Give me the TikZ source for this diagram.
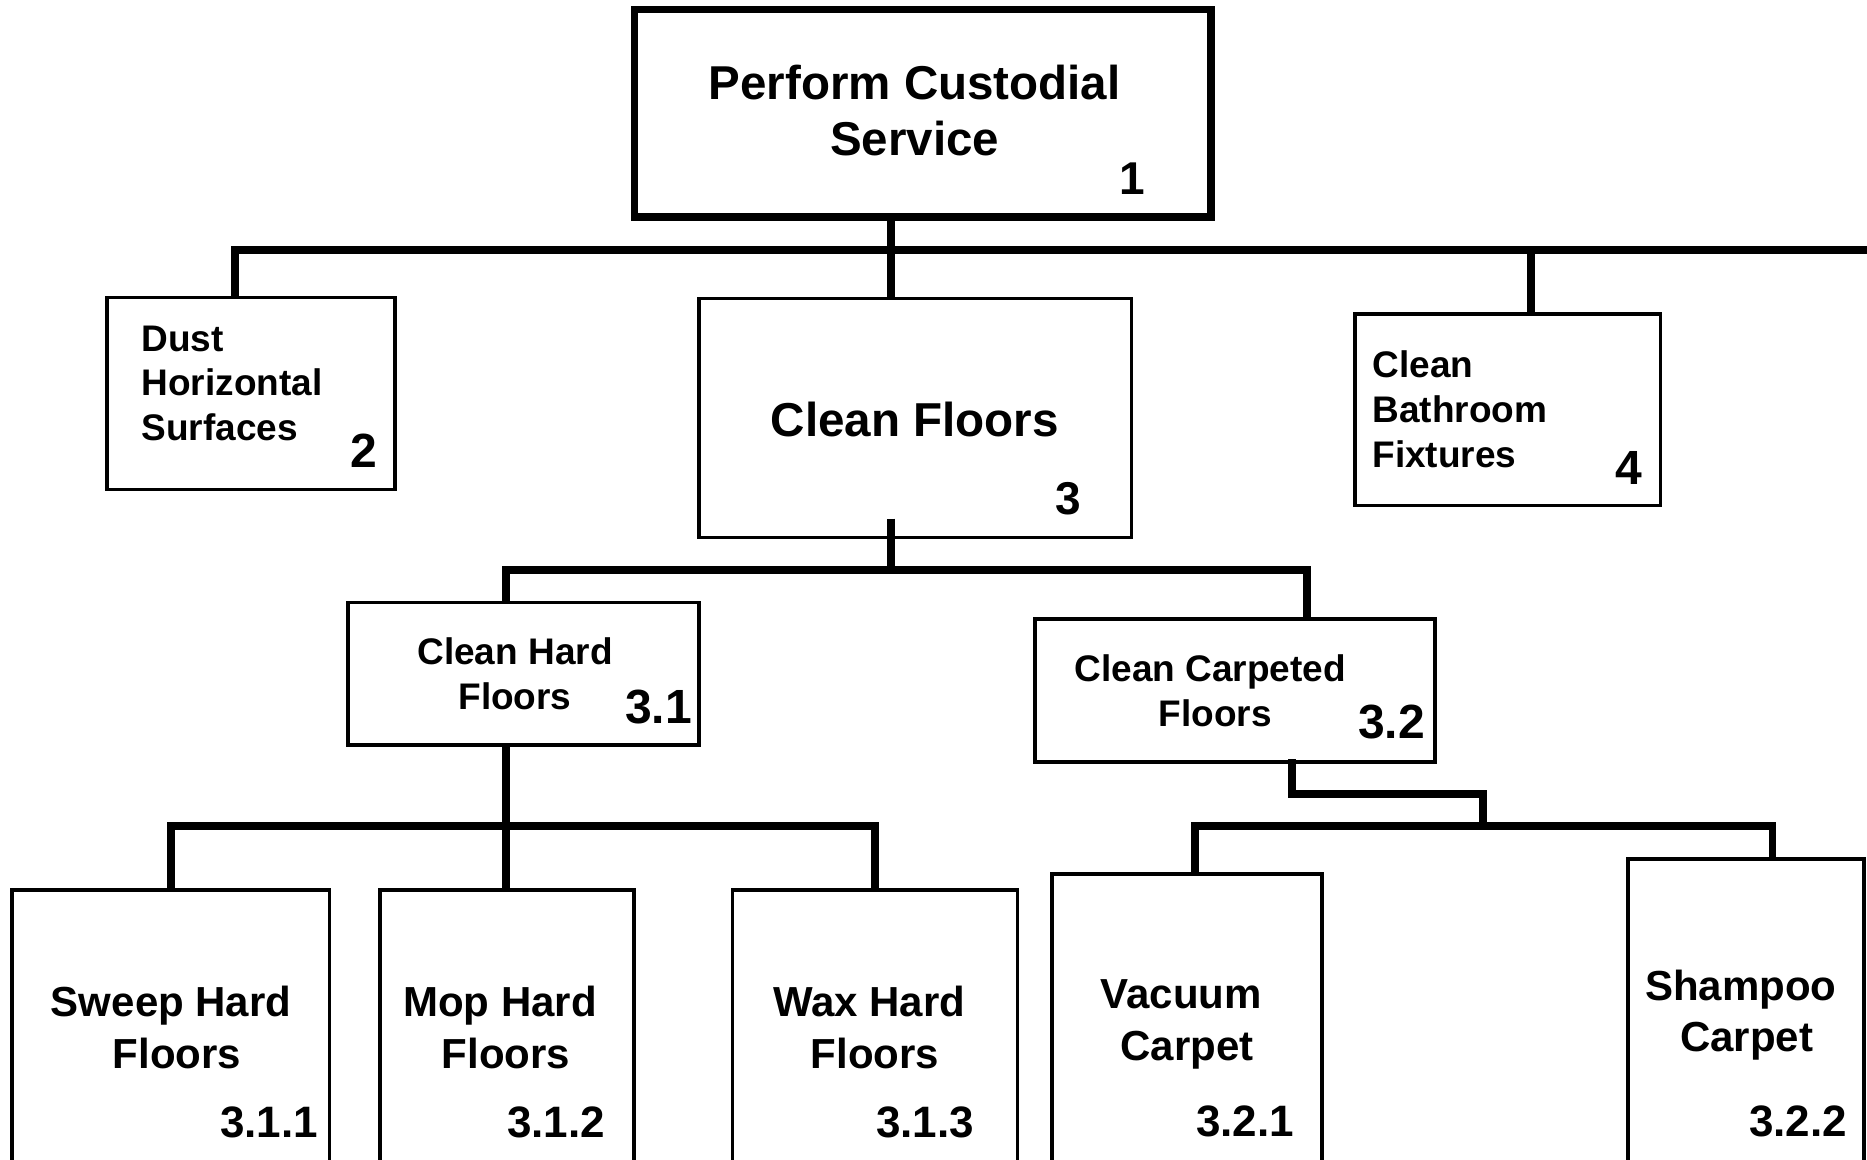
\documentclass[tikz,border=0pt]{standalone}
\usepackage{fontspec}
\setmainfont{Liberation Sans}
\usetikzlibrary{calc}
\tikzset{
  thickbox/.style={draw=black, line width=7.3pt, inner sep=0pt, outer sep=0pt, fill=white},
  thinbox/.style={draw=black, line width=3.5pt, inner sep=0pt, outer sep=0pt, fill=white},
  conn/.style={draw=black, line width=7.5pt},
  txt/.style={inner sep=0pt, outer sep=0pt, anchor=base},
  ltxt/.style={inner sep=0pt, outer sep=0pt, anchor=base west, align=left},
  num/.style={inner sep=0pt, outer sep=0pt, anchor=base east},
}
\newcommand{\fsz}[2]{\fontsize{#1pt}{#2pt}\selectfont\bfseries}
\begin{document}
\begin{tikzpicture}[x=1pt, y=-1pt]
\useasboundingbox (0,0) rectangle (1867,1159);
\clip (0,0) rectangle (1867,1159);
\fill[white] (0,0) rectangle (1867,1159);

% junction coordinates
\coordinate (j1) at (891,250);
\coordinate (j2) at (235,250);
\coordinate (b1e) at (1890,250);
\coordinate (j4) at (1531,250);
\coordinate (j5) at (891,570);
\coordinate (j6) at (506,570);
\coordinate (j7) at (1307,570);
\coordinate (j8) at (506,826);
\coordinate (j9) at (171,826);
\coordinate (j10) at (875,826);
\coordinate (j11) at (1292,794);
\coordinate (j12) at (1483,794);
\coordinate (j13) at (1483,826);
\coordinate (j14) at (1195,826);
\coordinate (j15) at (1772.5,826);

% boxes
\node[thickbox, minimum width=576.4pt, minimum height=207.3pt] (n1) at (922.8,113.35) {};
\node[thinbox, minimum width=288pt, minimum height=192pt] (n2) at (251,393.5) {};
\node[thinbox, minimum width=432.3pt, minimum height=239pt] (n3) at (915.15,418) {};
\node[thinbox, minimum width=305.5pt, minimum height=191.5pt] (n4) at (1507.75,409.75) {};
\node[thinbox, minimum width=351pt, minimum height=142.5pt] (n31) at (523.5,673.75) {};
\node[thinbox, minimum width=400pt, minimum height=143pt] (n32) at (1235,690.5) {};
\node[thinbox, minimum width=317.5pt, minimum height=340pt] (n311) at (170.75,1060) {};
\node[thinbox, minimum width=254pt, minimum height=340pt] (n312) at (507,1060) {};
\node[thinbox, minimum width=285pt, minimum height=340pt] (n313) at (875,1060) {};
\node[thinbox, minimum width=270pt, minimum height=350pt] (n321) at (1187,1049) {};
\node[thinbox, minimum width=236pt, minimum height=360pt] (n322) at (1746,1039) {};

% connectors
\draw[conn] (j1 |- n1.south) -- (j1 |- n3.north);
\draw[conn] (j2 |- n2.north) |- (b1e);
\draw[conn] (j4) -- (j4 |- n4.north);
\draw[conn] ($(j5 |- n3.south)+(0,-19)$) -- (j5);
\draw[conn] (j6 |- n31.north) |- (j7) -- (j7 |- n32.north);
\draw[conn] ($(j8 |- n31.south)+(0,-2)$) -- (j8 |- n312.north);
\draw[conn] (j9 |- n311.north) |- (j10) -- (j10 |- n313.north);
\draw[conn] ($(j11 |- n32.south)+(0,-3)$) |- (j12) -- (j13);
\draw[conn] (j14 |- n321.north) |- (j15) -- (j15 |- n322.north);

% texts (base anchor of a multi-line node = baseline of its last line)
\node[txt, align=center, font=\fsz{47.5}{55.7}] (t1) at (914.6,155) {Perform Custodial\\Service};
\node[num, font=\fsz{46}{50}] (k1) at (1145,194) {1};

\node[ltxt, font=\fsz{37}{44.5}] (t2) at (141.5,440) {Dust\\Horizontal\\Surfaces};
\node[num, font=\fsz{48}{50}] (k2) at (377,467.7) {2};

\node[txt, font=\fsz{47.6}{55}] (t3) at (914.8,436.7) {Clean Floors};
\node[num, font=\fsz{46}{50}] (k3) at (1081,514) {3};

\node[ltxt, font=\fsz{37}{45}] (t4) at (1372.5,467.3) {Clean\\Bathroom\\Fixtures};
\node[num, font=\fsz{48}{50}] (k4) at (1642,484.3) {4};

\node[txt, align=center, font=\fsz{37}{45.3}] (t31) at (515,709.3) {Clean Hard\\Floors};
\node[num, font=\fsz{48}{50}] (k31) at (692,723.3) {3.1};

\node[txt, align=center, font=\fsz{37}{45}] (t32) at (1215.3,726) {Clean Carpeted\hphantom{\ }\\Floors};
\node[num, font=\fsz{48}{50}] (k32) at (1425,738.3) {3.2};

\node[txt, align=center, font=\fsz{42}{51.6}] (t311) at (177,1068.3) {Sweep Hard\hphantom{\ }\\Floors};
\node[num, font=\fsz{44}{50}] (k311) at (318,1137.7) {3.1.1};

\node[txt, align=center, font=\fsz{42}{51.6}] (t312) at (506,1068.3) {Mop Hard\hphantom{\ }\\Floors};
\node[num, font=\fsz{44}{50}] (k312) at (605,1137.7) {3.1.2};

\node[txt, align=center, font=\fsz{42}{51.6}] (t313) at (875,1068.3) {Wax Hard\hphantom{\ }\\Floors};
\node[num, font=\fsz{44}{50}] (k313) at (974,1137.7) {3.1.3};

\node[txt, align=center, font=\fsz{42}{52}] (t321) at (1187,1060) {Vacuum\hphantom{\ }\\Carpet};
\node[num, font=\fsz{44}{50}] (k321) at (1294,1136.7) {3.2.1};

\node[txt, align=center, font=\fsz{42}{51.7}] (t322) at (1746.5,1051.7) {Shampoo\hphantom{\ }\\Carpet};
\node[num, font=\fsz{44}{50}] (k322) at (1847,1136.7) {3.2.2};
\end{tikzpicture}
\end{document}
